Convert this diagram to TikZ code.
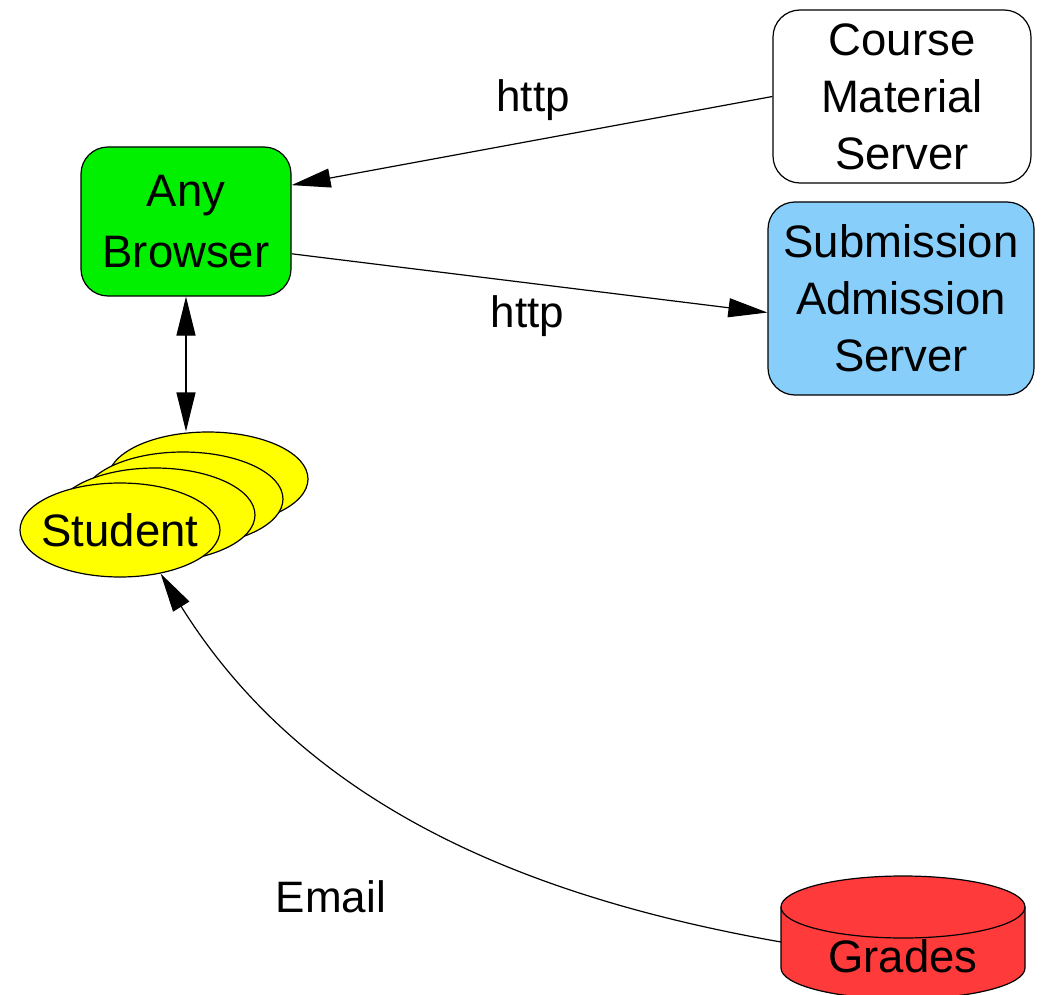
\documentclass[tikz,border=0pt]{standalone}
\usepackage{fontspec}
\setmainfont{Liberation Sans}
\usetikzlibrary{shapes.geometric, positioning, arrows.meta}
\definecolor{browsergreen}{RGB}{0,240,0}
\definecolor{serverblue}{RGB}{135,206,250}
\definecolor{studentyellow}{RGB}{255,255,0}
\definecolor{gradesred}{RGB}{255,58,58}

\begin{document}
\begin{tikzpicture}[
      x=1pt, y=1pt,
      every node/.style={font=\fontsize{45.5}{57}\selectfont},
      box/.style={draw, line width=1.2pt, rounded corners=27pt, align=center, inner sep=0pt},
      pupil/.style={ellipse, draw, line width=1.2pt, fill=studentyellow,
        minimum width=200pt, minimum height=94pt, inner sep=0pt},
      tag/.style={anchor=base, font=\fontsize{44}{56}\selectfont},
      link/.style={line width=1.2pt, -{Triangle[length=39pt,width=19pt]}},
      twoway/.style={line width=1.2pt,
        {Triangle[length=39pt,width=19pt]}-{Triangle[length=39pt,width=19pt]}}
    ]
    \useasboundingbox (0,0) rectangle (1044,-995);

    \node[box, minimum width=258pt, minimum height=173pt] (course) at (902,-96.5)
      {Course\\Material\\Server};
    \node[box, fill=browsergreen, minimum width=210pt, minimum height=149pt] (browser) at (186,-221.5)
      {Any\\[4pt]Browser};
    \node[box, fill=serverblue, minimum width=266pt, minimum height=193pt] (submission) at (901,-298.5)
      {Submission\\Admission\\Server};

    \node[pupil] (stud4) at (208,-479) {};
    \node[pupil] (stud3) at (183,-499) {};
    \node[pupil] (stud2) at (155,-515) {};
    \node[pupil, label=center:Student] (student) at (120,-530) {};

    \path[draw, fill=gradesred, line width=1.2pt] (781,-907) -- (781,-968)
      arc[start angle=180, end angle=360, x radius=122, y radius=31] -- (1025,-907)
      arc[start angle=0, end angle=180, x radius=122, y radius=31] -- cycle;
    \draw[line width=1.2pt] (781,-907) arc[start angle=180, end angle=360, x radius=122, y radius=31];
    \node[anchor=base] (grades) at (903,-972) {Grades};
    \coordinate (gradesside) at (781,-942);

    \node[tag] (httpget) at (533,-112) {http};
    \node[tag] (httppost) at (527.5,-327) {http};
    \node[tag] (email) at (331,-912) {Email};

    \draw[link] (course.west) -- (browser.19);
    \draw[link] (browser.-17) -- (submission.186);
    \draw[twoway] (browser) -- (browser |- stud4.north);
    \draw[link] (gradesside) to[out=170, in=-58, looseness=0.95] (student.-47);
    \end{tikzpicture}
\end{document}
